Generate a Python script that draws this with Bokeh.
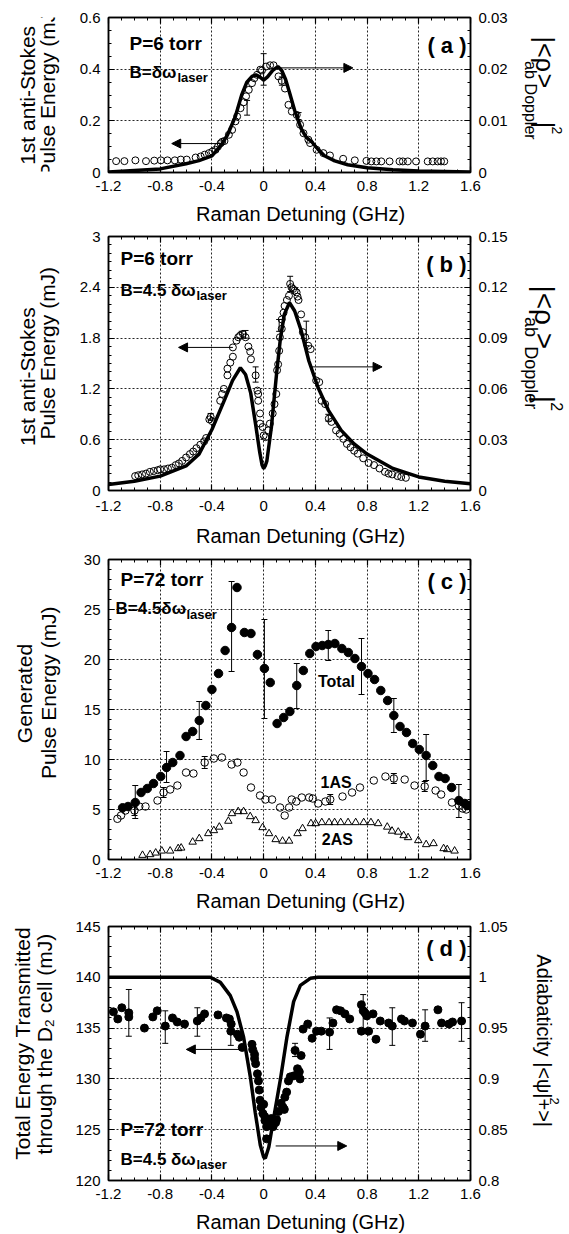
import math
from bokeh.plotting import figure
from bokeh.models import (Range1d, LinearAxis, FixedTicker, CustomJSTickFormatter, Label,
                          Arrow, NormalHead, Whisker, TeeHead, ColumnDataSource)
from bokeh.layouts import column, row
from bokeh.embed import file_html
from bokeh.resources import INLINE

FONT = "Liberation Sans"

# ---------------- shared x axis ----------------
X_TICKS = [-1.2, -0.8, -0.4, 0.0, 0.4, 0.8, 1.2, 1.6]
X_TITLE = "Raman Detuning (GHz)"

# ---------------- panel (a) ----------------
A_X = [-1.141,-1.077,-0.992,-0.91,-0.846,-0.795,-0.744,-0.687,-0.641,-0.595,-0.526,-0.487,-0.456,-0.423,-0.397,-0.372,-0.354,-0.333,-0.321,-0.303,
       -0.269,-0.244,-0.218,-0.205,-0.179,-0.154,-0.136,-0.115,-0.09,-0.072,-0.051,-0.026,-0.013,0.018,0.05,0.077,0.115,0.14,0.165,0.192,
       0.218,0.256,0.282,0.308,0.346,0.359,0.41,0.462,0.513,0.615,0.705,0.795,0.833,0.872,0.91,0.974,1.051,1.077,1.115,1.179,
       1.269,1.308,1.346,1.372,1.397]
A_Y = [0.044,0.044,0.047,0.044,0.046,0.047,0.047,0.047,0.05,0.05,0.058,0.062,0.069,0.075,0.081,0.088,0.1,0.113,0.119,0.122,
       0.146,0.165,0.198,0.217,0.249,0.272,0.295,0.32,0.346,0.365,0.378,0.398,0.395,0.41,0.415,0.415,0.372,0.355,0.325,0.262,
       0.236,0.223,0.185,0.152,0.127,0.114,0.088,0.075,0.066,0.053,0.047,0.045,0.043,0.043,0.043,0.043,0.043,0.043,0.043,0.043,
       0.043,0.043,0.043,0.043,0.043]
A_ERR_X = [-0.128, 0.0, 0.141, 0.27]
A_ERR_LO = [0.222, 0.338, 0.338, 0.205]
A_ERR_HI = [0.279, 0.46, 0.37, 0.232]
A_FIT_X = [-1.2,-1.0,-0.8,-0.6,-0.5,-0.4,-0.33,-0.28,-0.22,-0.17,-0.13,-0.09,-0.06,-0.03,0.0,0.03,0.07,0.11,0.14,0.17,
           0.2,0.24,0.29,0.33,0.37,0.42,0.47,0.55,0.65,0.8,1.0,1.2,1.4,1.6]
A_FIT_Y = [0.0001,0.0004,0.0007,0.0017,0.0023,0.0032,0.00525,0.00725,0.01075,0.015,0.0175,0.0186,0.0189,0.0185,0.0179,0.0185,0.01975,0.0205,0.01975,0.018,
           0.0155,0.012,0.0085,0.0068,0.006,0.0045,0.00325,0.00225,0.0015,0.0009,0.00055,0.0003,0.0002,0.0001]
A_YTICKS = [0, 0.2, 0.4, 0.6]
A_RTICKS = [0, 0.01, 0.02, 0.03]

# ---------------- panel (b) ----------------
B_X = [-0.994,-0.97,-0.94,-0.91,-0.88,-0.85,-0.82,-0.8,-0.77,-0.74,-0.71,-0.68,-0.655,-0.63,-0.6,-0.57,-0.545,-0.52,-0.49,-0.46,-0.445,-0.42,-0.41,-0.40,
       -0.336,-0.322,-0.308,-0.28,-0.28,-0.258,-0.238,-0.238,-0.21,-0.196,-0.182,-0.16,-0.14,-0.118,-0.104,-0.098,-0.062,-0.048,-0.042,-0.042,-0.028,-0.028,-0.008,0.0,0.014,0.036,0.048,0.07,0.084,0.098,0.104,0.112,0.12,0.126,0.14,0.14,0.154,0.162,
       0.18,0.196,0.205,0.215,0.228,0.24,0.255,0.262,0.27,
       0.29,0.303,0.322,0.345,0.364,0.406,0.43,0.448,0.476,0.504,0.524,0.56,0.588,0.616,0.644,0.672,0.70,0.728,0.77,0.812,0.854,0.896,0.938,0.966,0.994,1.036,1.064,1.10]
B_Y = [0.17,0.18,0.19,0.2,0.22,0.23,0.24,0.25,0.25,0.26,0.27,0.3,0.32,0.35,0.39,0.43,0.46,0.5,0.54,0.58,0.62,0.84,0.87,0.82,
       1.06,1.14,1.20,1.36,1.44,1.51,1.58,1.69,1.77,1.81,1.83,1.85,1.81,1.70,1.64,1.55,1.36,1.18,1.14,1.06,0.91,0.79,0.75,0.65,0.63,0.71,0.79,0.91,1.02,1.14,1.42,1.49,1.65,1.81,1.91,2.02,2.10,2.18,
       2.25,2.30,2.44,2.40,2.38,2.36,2.34,2.29,2.25,
       2.08,1.87,1.81,1.71,1.67,1.30,1.28,1.06,1.02,0.85,0.81,0.71,0.67,0.61,0.55,0.51,0.47,0.435,0.38,0.325,0.30,0.26,0.22,0.20,0.19,0.17,0.16,0.15]
B_ERR_X = [-0.41, -0.17, -0.14, -0.062, 0.12, 0.205, 0.33, 0.5]
B_ERR_LO = [0.83, 1.80, 1.80, 1.28, 1.88, 2.35, 1.71, 0.82]
B_ERR_HI = [0.91, 1.88, 1.89, 1.46, 2.02, 2.53, 2.00, 0.90]
B_FIT_X = [-1.2,-1.0,-0.8,-0.6,-0.5,-0.4,-0.3,-0.24,-0.18,-0.14,-0.1,-0.06,-0.03,-0.012,0.0,0.012,0.025,0.06,0.1,0.13,0.16,0.2,0.24,0.29,0.35,0.42,0.5,0.6,0.7,0.8,1.0,1.2,1.4,1.6]
B_FIT_Y = [0.0035,0.0055,0.0085,0.0145,0.0215,0.036,0.054,0.065,0.0725,0.0685,0.0575,0.038,0.0225,0.015,0.013,0.0145,0.0175,0.0375,0.069,0.09,0.104,0.111,0.106,0.0945,0.0765,0.061,0.0475,0.0355,0.0275,0.0215,0.013,0.008,0.0055,0.004]
B_YTICKS = [0, 0.6, 1.2, 1.8, 2.4, 3]
B_RTICKS = [0, 0.03, 0.06, 0.09, 0.12, 0.15]

# ---------------- panel (c) ----------------
C_X_TOT = [-1.091,-1.049,-0.993,-0.948,-0.9,-0.852,-0.796,-0.751,-0.703,-0.647,-0.6,-0.549,-0.498,-0.447,-0.4,-0.349,-0.298,-0.248,-0.206,-0.149,
           -0.098,-0.048,0.006,0.051,0.104,0.155,0.203,0.256,0.307,0.357,0.405,0.453,0.5,0.551,0.605,0.655,0.706,0.757,0.807,0.858,
           0.906,0.959,1.007,1.055,1.105,1.153,1.204,1.257,1.308,1.356,1.404,1.454,1.51,1.556,1.575,1.595]
C_Y_TOT = [5.17,5.3,5.7,6.7,7.1,7.6,8.3,9.2,9.7,10.4,12.3,12.8,13.9,15.4,17.0,18.6,20.9,23.2,27.2,22.7,
           22.6,20.5,19.1,17.7,13.6,14.2,14.8,17.4,18.9,20.6,21.3,21.4,21.5,21.6,21.1,20.7,20.1,19.3,18.6,18.0,
           16.9,15.9,14.4,13.3,12.7,11.6,11.0,10.4,9.4,8.3,8.1,7.2,5.9,5.6,5.4,5.4]
C_X_1AS = [-1.131,-1.103,-1.069,-0.999,-0.962,-0.914,-0.821,-0.774,-0.723,-0.667,-0.6,-0.543,-0.456,-0.385,-0.323,-0.248,-0.203,-0.155,-0.098,-0.028,
           0.014,0.065,0.127,0.163,0.197,0.217,0.253,0.295,0.352,0.38,0.422,0.478,0.515,0.61,0.684,0.745,0.852,0.942,1.007,1.091,
           1.167,1.246,1.33,1.373,1.457,1.51,1.539,1.567]
C_Y_1AS = [4.07,4.4,4.9,4.9,5.3,5.3,5.9,6.7,7.0,7.4,8.7,8.6,9.7,10.1,10.2,9.5,9.7,8.7,7.2,6.4,
           6.0,6.0,5.2,4.4,5.2,6.0,5.8,6.2,6.2,6.1,5.6,5.8,6.0,6.3,6.7,7.2,7.9,8.3,8.1,8.0,
           7.4,7.3,6.9,6.5,5.7,5.4,5.1,5.0]
C_X_2AS = [-0.937,-0.878,-0.835,-0.788,-0.723,-0.661,-0.638,-0.549,-0.498,-0.428,-0.385,-0.343,-0.273,-0.245,-0.197,-0.155,-0.104,-0.062,-0.008,0.042,
           0.093,0.146,0.197,0.262,0.301,0.366,0.402,0.45,0.506,0.549,0.596,0.653,0.712,0.774,0.83,0.886,0.956,0.993,1.041,1.083,
           1.117,1.196,1.257,1.314,1.392,1.42,1.477]
C_Y_2AS = [0.43,0.5,0.66,0.86,0.86,1.1,1.16,1.75,2.1,2.6,2.9,3.25,3.84,4.6,4.8,4.8,4.3,3.9,3.2,2.6,
           2.0,1.85,1.85,2.6,3.1,3.6,3.6,3.7,3.7,3.7,3.7,3.7,3.7,3.7,3.7,3.6,3.25,2.85,2.75,2.4,
           2.2,1.9,1.5,1.6,1.1,1.0,0.86]
C_ERR_TOT_X = [-0.993,-0.751,-0.498,-0.248,0.006,0.256,0.5,0.757,1.007,1.257,1.51]
C_ERR_TOT_LO = [4.1,7.7,12.0,18.8,14.1,15.1,19.9,16.5,12.7,7.9,4.2]
C_ERR_TOT_HI = [7.4,10.8,15.8,27.8,24.0,19.6,22.9,22.1,16.1,12.5,7.5]
C_ERR_1AS_X = [-0.999,-0.774,-0.456,0.515,1.007,1.246]
C_ERR_1AS_LO = [4.4,6.2,9.1,5.5,7.6,6.8]
C_ERR_1AS_HI = [5.4,7.2,10.3,6.5,8.6,7.8]
C_YTICKS = [0, 5, 10, 15, 20, 25, 30]

# ---------------- panel (d) ----------------
D_X = [-1.162,-1.128,-1.097,-1.043,-1.043,-0.922,-0.857,-0.823,-0.761,-0.705,
       -0.668,-0.612,-0.513,-0.485,-0.457,-0.353,-0.288,-0.265,-0.251,-0.254,
       -0.203,-0.189,-0.166,-0.09,-0.085,-0.07,-0.07,-0.062,-0.048,-0.04,
       -0.034,-0.028,-0.02,-0.006,0.0,0.008,0.01,0.023,0.023,0.045,
       0.06,0.073,0.093,0.1,0.116,0.135,0.15,0.16,0.164,0.178,
       0.192,0.206,0.234,0.243,0.262,0.276,0.282,0.29,0.305,0.341,
       0.375,0.409,0.446,0.51,0.536,0.564,0.595,0.629,0.666,0.756,
       0.77,0.784,0.798,0.756,0.812,0.846,0.869,0.902,0.967,0.995,
       1.066,1.089,1.151,1.213,1.249,1.348,1.376,1.433,1.461,1.531]
D_Y = [136.6,135.9,137.0,136.5,136.1,135.0,136.1,136.7,135.2,136.0,
       135.6,135.4,135.7,136.0,136.4,136.3,136.0,135.9,135.4,134.7,
       134.4,134.1,133.1,133.4,132.9,132.4,132.0,131.5,130.5,129.8,
       128.9,127.9,127.2,126.6,127.5,126.3,125.9,125.3,124.1,125.8,
       126.1,125.3,125.7,126.0,126.8,127.6,127.2,127.0,128.2,128.7,
       129.8,130.2,130.3,132.8,131.0,130.7,130.0,132.3,134.9,135.4,
       134.0,134.7,134.7,134.6,135.5,136.8,136.7,136.4,135.9,137.3,
       136.7,136.5,136.2,134.7,134.7,136.4,133.9,135.7,135.5,135.2,
       135.9,135.7,135.5,134.4,135.2,136.8,135.5,135.4,135.6,135.7]
D_ERR_X = [-1.043,-0.761,-0.513,-0.254,-0.07,0.243,0.51,0.77,0.995,1.249,1.531]
D_ERR_LO = [134.2,133.5,134.2,133.3,131.9,132.2,132.9,134.7,133.3,133.7,133.7]
D_ERR_HI = [138.8,136.7,137.0,135.5,132.8,133.5,136.0,138.3,137.0,136.8,137.5]
D_FIT_X = [-1.2,-0.45,-0.413,-0.335,-0.258,-0.206,-0.155,-0.103,-0.065,-0.026,0.0,0.013,0.04,0.077,0.129,0.18,0.232,0.284,0.361,0.42,1.6]
D_FIT_Y = [1.0,1.0,1.0,0.995,0.982,0.966,0.941,0.902,0.867,0.835,0.823,0.822,0.833,0.861,0.899,0.941,0.976,0.992,0.999,1.0,1.0]
D_YTICKS = [120, 125, 130, 135, 140, 145]
D_RTICKS = [0.8, 0.85, 0.9, 0.95, 1.0, 1.05]

# ---------------- layout constants (page pixels) ----------------
PAGE_L = 0
LW = 63            # left text strip width
MB_L = 45          # main figure left border
FW = 362           # frame width
MB_R = 45          # main figure right border
RW = 52            # right text strip width
FL = PAGE_L + LW + MB_L          # frame left = 108
RL = FL + FW + MB_R              # right strip left = 515
NB = "\u00a0" * 4
FMT_CODE = r"var s = tick.toFixed(3); s = s.replace(/\.?0+$/, ''); if (s === '-0') { s = '0'; } return s;"
LT = 21            # left title font size


def minor(lo, hi, step):
    n = int(round((hi - lo) / step))
    return [round(lo + i * step, 6) for i in range(n + 1)]


def style_axis(ax, show=True):
    ax.major_tick_in = 6
    ax.major_tick_out = 0
    ax.minor_tick_in = 3
    ax.minor_tick_out = 0
    ax.axis_line_width = 1.5
    ax.axis_line_color = "black"
    ax.major_tick_line_width = 1.2
    ax.major_tick_line_color = "black"
    ax.minor_tick_line_width = 1
    ax.minor_tick_line_color = "black"
    if show:
        ax.major_label_text_font = FONT
        ax.major_label_text_font_size = "15px"
        ax.major_label_text_color = "black"
        ax.major_label_standoff = 8
        ax.formatter = CustomJSTickFormatter(code=FMT_CODE)
    else:
        ax.major_label_text_font_size = "1px"
        ax.major_label_text_color = None
        ax.major_label_standoff = 0


def make_panel(fh, bt, bb, yr, ytk, ymn, rr=None, rtk=None, rmn=None, tick_so=8, title_so=9):
    p = figure(frame_width=FW, frame_height=fh, x_range=Range1d(-1.2, 1.6), y_range=Range1d(*yr),
               min_border_left=MB_L, min_border_right=MB_R, min_border_top=bt, min_border_bottom=bb,
               output_backend="svg", toolbar_location=None)
    p.outline_line_color = "black"
    p.outline_line_width = 1.5
    p.background_fill_color = "white"
    p.border_fill_color = "white"
    xt = FixedTicker(ticks=X_TICKS, minor_ticks=minor(-1.2, 1.6, 0.1))
    yt = FixedTicker(ticks=ytk, minor_ticks=ymn)
    p.xaxis.ticker = xt
    p.yaxis.ticker = yt
    p.xgrid.ticker = xt
    p.ygrid.ticker = yt
    for g in (p.xgrid, p.ygrid):
        g.grid_line_color = "black"
        g.grid_line_dash = "2 2"
        g.grid_line_width = 1
        g.grid_line_alpha = 0.85
    xa = p.xaxis[0]
    style_axis(xa)
    xa.major_label_standoff = tick_so
    xa.axis_label = NB + X_TITLE
    xa.axis_label_text_font = FONT
    xa.axis_label_text_font_size = "20px"
    xa.axis_label_text_font_style = "normal"
    xa.axis_label_text_color = "black"
    xa.axis_label_standoff = title_so
    style_axis(p.yaxis[0])
    top = LinearAxis(ticker=FixedTicker(ticks=X_TICKS, minor_ticks=minor(-1.2, 1.6, 0.1)))
    style_axis(top, show=False)
    p.add_layout(top, "above")
    if rr is not None:
        p.extra_y_ranges = {"r": Range1d(*rr)}
        ra = LinearAxis(y_range_name="r", ticker=FixedTicker(ticks=rtk, minor_ticks=rmn))
        style_axis(ra)
    else:
        ra = LinearAxis(ticker=FixedTicker(ticks=ytk, minor_ticks=ymn))
        style_axis(ra, show=False)
    p.add_layout(ra, "right")
    return p


def text_strip(w, h):
    f = figure(width=w, height=h, x_range=Range1d(0, w), y_range=Range1d(0, h), min_border=0,
               title=None, x_axis_location=None, y_axis_location=None,
               output_backend="svg", toolbar_location=None)
    f.grid.visible = False
    f.outline_line_color = None
    f.background_fill_color = "white"
    f.border_fill_color = "white"
    return f


def lab(p, fb, px, py, text, size, bold=False, align="left", angle=0.0):
    """Label inside a main figure, page coords converted to frame-relative screen units."""
    p.add_layout(Label(x=px - FL, y=fb - py, x_units="screen", y_units="screen", text=text,
                       text_font=FONT, text_font_size=f"{size}px",
                       text_font_style="bold" if bold else "normal",
                       text_align=align, text_baseline="middle", angle=angle, text_color="black"))


def slab(f, left, bottom, px, py, text, size, align="left", angle=0.0):
    """Label in a text strip (1 data unit = 1 px)."""
    f.add_layout(Label(x=px - left, y=bottom - py, text=text, text_font=FONT, text_font_size=f"{size}px",
                       text_align=align, text_baseline="middle", angle=angle, text_color="black"))


def errs(p, xs, lo, hi):
    src = ColumnDataSource(dict(x=xs, lo=lo, hi=hi))
    p.add_layout(Whisker(base="x", lower="lo", upper="hi", source=src, line_color="black", line_width=1,
                         upper_head=TeeHead(size=6, line_color="black", line_width=1),
                         lower_head=TeeHead(size=6, line_color="black", line_width=1)))


def arrow(p, x0, x1, y):
    p.add_layout(Arrow(end=NormalHead(size=9, fill_color="black", line_color="black", line_width=1),
                       x_start=x0, y_start=y, x_end=x1, y_end=y, line_color="black", line_width=1))


PI2 = math.pi / 2


def side_strips(top, h, left_lines, right_pieces):
    bottom = top + h
    L = text_strip(LW, h)
    for px, py, t in left_lines:
        slab(L, PAGE_L, bottom, px, py, t, LT, align="center", angle=PI2)
    R = text_strip(RW, h)
    for px, py, t, s in right_pieces:
        slab(R, RL, bottom, px, py, t, s, angle=-PI2)
    return L, R


def rho_pieces(y0, k=1.0):
    m, s, sp = round(25 * k), round(16 * k), round(14 * k)
    return [(544, y0, "|<ρ", m), (530, y0 + round(36 * k), "ab", s), (544, y0 + round(54 * k), ">", m),
            (530, y0 + round(69 * k), "Doppler", s), (544, y0 + round(125 * k), "|", m),
            (556, y0 + round(132 * k), "2", sp)]


# ---------------- (a) ----------------
TOP_A, BT_A, FH_A, BB_A = 0, 17, 155, 54
H_A = BT_A + FH_A + BB_A
FB_A = TOP_A + BT_A + FH_A
pa = make_panel(FH_A, BT_A, BB_A, (0, 0.6), A_YTICKS, minor(0, 0.6, 0.05), (0, 0.03), A_RTICKS, minor(0, 0.03, 0.0025))
pa.scatter(A_X, A_Y, marker="circle", size=7, fill_color=None, line_color="black", line_width=1)
errs(pa, A_ERR_X, A_ERR_LO, A_ERR_HI)
pa.line(A_FIT_X, A_FIT_Y, y_range_name="r", line_color="black", line_width=3.5)
arrow(pa, -0.314, -0.711, 0.112)
arrow(pa, 0.134, 0.69, 0.405)
lab(pa, FB_A, 129, 43, "P=6 torr", 19, True)
lab(pa, FB_A, 129, 72, "B=δω", 17, True)
lab(pa, FB_A, 177, 77, "laser", 13, True)
lab(pa, FB_A, 466, 45, "( a )", 22, True, align="right")
La, Ra = side_strips(TOP_A, H_A, [(27, 110, "1st  anti-Stokes"), (47, 108, "Pulse Energy (mJ)")], rho_pieces(28))

# ---------------- (b) ----------------
TOP_B = TOP_A + H_A
BT_B, FH_B, BB_B = 9, 254, 59
H_B = BT_B + FH_B + BB_B
FB_B = TOP_B + BT_B + FH_B
pb = make_panel(FH_B, BT_B, BB_B, (0, 3), B_YTICKS, minor(0, 3, 0.1), (0, 0.15), B_RTICKS, minor(0, 0.15, 0.005),
                tick_so=10, title_so=11)
pb.scatter(B_X, B_Y, marker="circle", size=7, fill_color=None, line_color="black", line_width=1)
errs(pb, B_ERR_X, B_ERR_LO, B_ERR_HI)
pb.line(B_FIT_X, B_FIT_Y, y_range_name="r", line_color="black", line_width=3.5)
arrow(pb, -0.238, -0.658, 1.69)
arrow(pb, 0.364, 0.916, 1.46)
lab(pb, FB_B, 120, 257, "P=6 torr", 19, True)
lab(pb, FB_B, 120, 289, "B=4.5 δω", 17, True)
lab(pb, FB_B, 196, 294, "laser", 13, True)
lab(pb, FB_B, 466, 263, "( b )", 22, True, align="right")
Lb, Rb = side_strips(TOP_B, H_B, [(27, 400, "1st  anti-Stokes"), (47, 374, "Pulse Energy (mJ)")], rho_pieces(288, 1.12))

# ---------------- (c) ----------------
TOP_C = TOP_B + H_B
BT_C, FH_C, BB_C = 10, 300, 57
H_C = BT_C + FH_C + BB_C
FB_C = TOP_C + BT_C + FH_C
pc = make_panel(FH_C, BT_C, BB_C, (0, 30), C_YTICKS, minor(0, 30, 1))
errs(pc, C_ERR_TOT_X, C_ERR_TOT_LO, C_ERR_TOT_HI)
errs(pc, C_ERR_1AS_X, C_ERR_1AS_LO, C_ERR_1AS_HI)
pc.scatter(C_X_TOT, C_Y_TOT, marker="circle", size=8.5, fill_color="black", line_color="black")
pc.scatter(C_X_1AS, C_Y_1AS, marker="circle", size=7.5, fill_color=None, line_color="black", line_width=1)
pc.scatter(C_X_2AS, C_Y_2AS, marker="triangle", size=7.5, fill_color=None, line_color="black", line_width=1)
for tx, ty, tt in [(0.42, 17.8, "Total"), (0.44, 7.7, "1AS"), (0.45, 2.0, "2AS")]:
    pc.add_layout(Label(x=tx, y=ty, text=tt, text_font=FONT, text_font_size="16px", text_font_style="bold",
                        text_baseline="middle", text_color="black"))
lab(pc, FB_C, 120, 578, "P=72 torr", 19, True)
lab(pc, FB_C, 115, 607, "B=4.5δω", 17, True)
lab(pc, FB_C, 186, 613, "laser", 13, True)
lab(pc, FB_C, 466, 580, "( c )", 22, True, align="right")
Lc, Rc = side_strips(TOP_C, H_C, [(24, 712, "Generated"), (48, 711, "Pulse Energy (mJ)")], [])

# ---------------- (d) ----------------
TOP_D = TOP_C + H_C
BT_D, FH_D, BB_D = 10, 254, 53
H_D = BT_D + FH_D + BB_D
FB_D = TOP_D + BT_D + FH_D
pd = make_panel(FH_D, BT_D, BB_D, (120, 145), D_YTICKS, minor(120, 145, 1), (0.8, 1.05), D_RTICKS, minor(0.8, 1.05, 0.01))
pd.scatter(D_X, D_Y, marker="circle", size=8, fill_color="black", line_color="black")
errs(pd, D_ERR_X, D_ERR_LO, D_ERR_HI)
pd.line(D_FIT_X, D_FIT_Y, y_range_name="r", line_color="black", line_width=3.5)
arrow(pd, -0.18, -0.598, 132.9)
arrow(pd, 0.093, 0.643, 123.4)
lab(pd, FB_D, 466, 947, "( d )", 22, True, align="right")
lab(pd, FB_D, 120, 1128, "P=72 torr", 19, True)
lab(pd, FB_D, 120, 1158, "B=4.5 δω", 17, True)
lab(pd, FB_D, 196, 1163, "laser", 13, True)
Ld, Rd = side_strips(TOP_D, H_D, [(22, 1062, "Total Energy Transmitted"), (44, 1063, "through the D₂ cell (mJ)")],
                     [(543, 950, "Adiabaticity  |<ψ|+>|", 20), (554, 1130, "2", 13)])

layout = column(row(La, pa, Ra, spacing=0), row(Lb, pb, Rb, spacing=0),
                row(Lc, pc, Rc, spacing=0), row(Ld, pd, Rd, spacing=0), spacing=0)
open("out.html", "w").write(file_html(layout, INLINE))
